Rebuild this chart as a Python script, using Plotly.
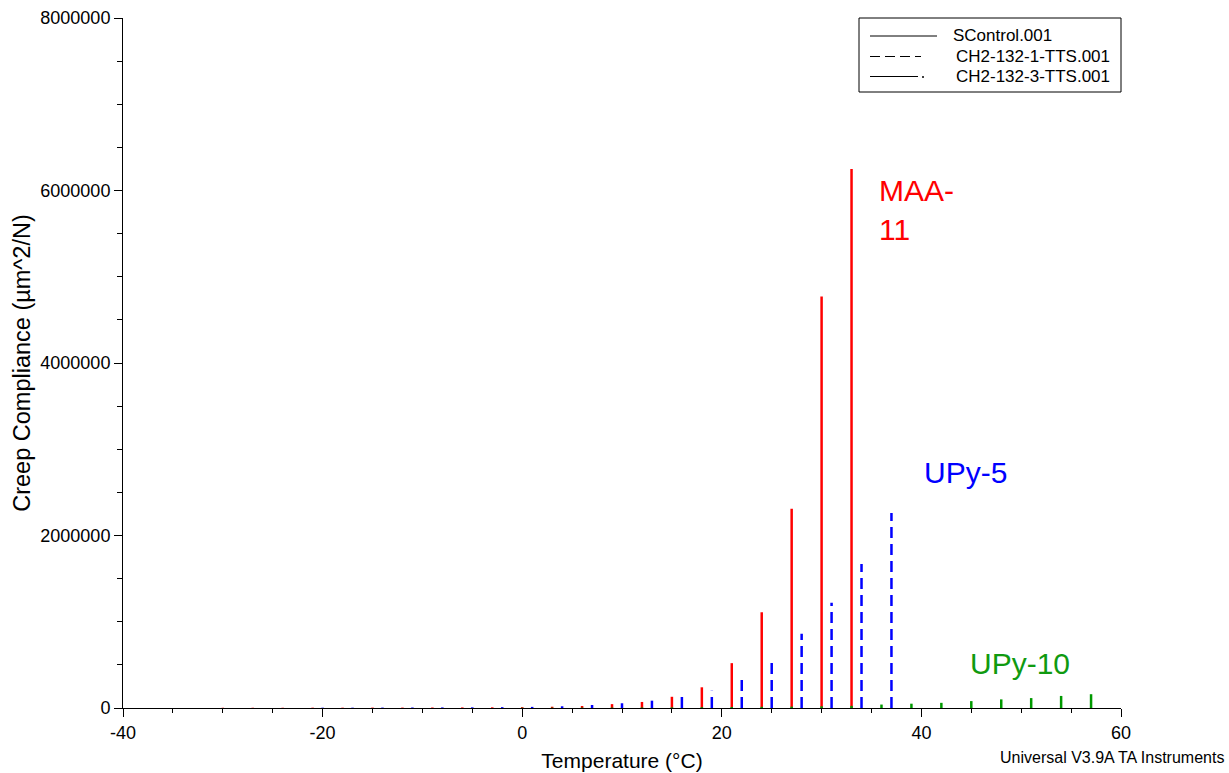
import plotly.graph_objects as go

# ---------------- data ----------------
# SControl.001 (MAA-11), red solid spikes: temperature (°C) and peak creep compliance (µm^2/N)
red_temps = [-30, -27, -24, -21, -18, -15, -12, -9, -6, -3, 0, 3, 6, 9, 12, 15, 18, 21, 24, 27, 30, 33]
red_peaks = [3000, 3000, 3000, 4000, 4000, 5000, 5000, 6000, 7000, 8000, 10000, 15000, 23000,
             45000, 70000, 130000, 240000, 520000, 1110000, 2310000, 4770000, 6250000]

# CH2-132-1-TTS.001 (UPy-5), blue dashed spikes
blue_temps = [-20, -17, -14, -11, -8, -5, -2, 1, 4, 7, 10, 13, 16, 19, 22, 25, 28, 31, 34, 37]
blue_peaks = [4000, 4000, 5000, 6000, 7000, 8000, 10000, 13000, 20000, 35000, 55000, 85000,
              130000, 200000, 330000, 540000, 860000, 1220000, 1670000, 2260000]

# CH2-132-3-TTS.001 (UPy-10), green long-dash-dot spikes
green_temps = [0, 3, 6, 9, 12, 15, 18, 21, 24, 27, 30, 33, 36, 39, 42, 45, 48, 51, 54, 57]
green_peaks = [3000, 4000, 5000, 6000, 7000, 8000, 10000, 12000, 14000, 16000, 20000, 25000,
               40000, 50000, 60000, 80000, 100000, 115000, 140000, 160000]

spike_start = 0  # compliance at the first time point of each isotherm (≈0 on this scale)

series_names = ["SControl.001", "CH2-132-1-TTS.001", "CH2-132-3-TTS.001"]
series_labels = ["MAA-", "11", "UPy-5", "UPy-10"]

x_tick_vals = [-40, -20, 0, 20, 40, 60]
x_tick_text = ["-40", "-20", "0", "20", "40", "60"]
y_tick_vals = [0, 2000000, 4000000, 6000000, 8000000]
y_tick_text = ["0", "2000000", "4000000", "6000000", "8000000"]

# ---------------- figure ----------------
FONT = "Liberation Sans, Arial, sans-serif"


def spikes(temps, peaks):
    xs, ys = [], []
    for t, p in zip(temps, peaks):
        xs += [t, t, None]
        ys += [spike_start, p, None]
    return xs, ys


fig = go.Figure()
for (temps, peaks), name, color, dash in [
    ((red_temps, red_peaks), series_names[0], "#FF0000", "solid"),
    ((blue_temps, blue_peaks), series_names[1], "#0000FF", "11px,6px"),
    ((green_temps, green_peaks), series_names[2], "#009900", "30px,5px,2px,5px"),
]:
    xs, ys = spikes(temps, peaks)
    fig.add_trace(go.Scatter(x=xs, y=ys, mode="lines", name=name, showlegend=False,
                             line=dict(color=color, width=2.5, dash=dash)))

# plot area in pixels: x 123..1121, y 18..708
L, R, T, B = 123, 1121, 18, 708


def px(xp):
    return (xp - L) / (R - L)


def py(yp):
    return (B - yp) / (B - T)


shapes = [
    dict(type="rect", xref="paper", yref="paper", x0=px(859), x1=px(1121), y0=py(92), y1=py(18),
         line=dict(color="black", width=1), fillcolor="white", layer="above"),
    dict(type="line", xref="paper", yref="paper", x0=px(870), x1=px(937), y0=py(36), y1=py(36),
         line=dict(color="black", width=1)),
    dict(type="line", xref="paper", yref="paper", x0=px(870), x1=px(921), y0=py(56.5), y1=py(56.5),
         line=dict(color="black", width=1, dash="10px,5px")),
    dict(type="line", xref="paper", yref="paper", x0=px(870), x1=px(918), y0=py(76.5), y1=py(76.5),
         line=dict(color="black", width=1)),
    dict(type="line", xref="paper", yref="paper", x0=px(922), x1=px(924), y0=py(77), y1=py(77),
         line=dict(color="black", width=1.5)),
]

annotations = [
    dict(xref="paper", yref="paper", x=px(951), y=py(36), text=series_names[0], showarrow=False,
         xanchor="left", yanchor="middle", font=dict(family=FONT, size=17, color="black")),
    dict(xref="paper", yref="paper", x=px(954), y=py(56.5), text=series_names[1], showarrow=False,
         xanchor="left", yanchor="middle", font=dict(family=FONT, size=17, color="black")),
    dict(xref="paper", yref="paper", x=px(954), y=py(76.5), text=series_names[2], showarrow=False,
         xanchor="left", yanchor="middle", font=dict(family=FONT, size=17, color="black")),
    # series labels
    dict(xref="paper", yref="paper", x=px(877), y=py(191), text=series_labels[0], showarrow=False,
         xanchor="left", yanchor="middle", font=dict(family=FONT, size=30, color="#FF0000")),
    dict(xref="paper", yref="paper", x=px(877), y=py(230), text=series_labels[1], showarrow=False,
         xanchor="left", yanchor="middle", font=dict(family=FONT, size=30, color="#FF0000")),
    dict(xref="paper", yref="paper", x=px(922), y=py(472), text=series_labels[2], showarrow=False,
         xanchor="left", yanchor="middle", font=dict(family=FONT, size=30, color="#0000FF")),
    dict(xref="paper", yref="paper", x=px(968), y=py(663), text=series_labels[3], showarrow=False,
         xanchor="left", yanchor="middle", font=dict(family=FONT, size=30, color="#109A10")),
    # footer
    dict(xref="paper", yref="paper", x=px(1226), y=py(757), text="Universal V3.9A TA Instruments",
         showarrow=False, xanchor="right", yanchor="middle",
         font=dict(family=FONT, size=16, color="black")),
]

fig.update_layout(
    width=1229, height=773,
    margin=dict(l=L, r=1229 - R, t=T, b=773 - B, autoexpand=False),
    paper_bgcolor="white", plot_bgcolor="white",
    font=dict(family=FONT, color="black"),
    showlegend=False,
    shapes=shapes, annotations=annotations,
    xaxis=dict(
        range=[-40, 60], showgrid=False, zeroline=False,
        showline=True, linecolor="black", linewidth=1,
        ticks="outside", ticklen=8, tickcolor="black", tickwidth=1,
        tickvals=x_tick_vals, ticktext=x_tick_text,
        tickfont=dict(family=FONT, size=18, color="black"),
        minor=dict(dtick=5, tick0=0, ticks="outside", ticklen=4, tickcolor="black", tickwidth=1),
        title=dict(text="Temperature (°C)", font=dict(family=FONT, size=21, color="black"), standoff=11),
        automargin=False,
    ),
    yaxis=dict(
        range=[0, 8000000], showgrid=False, zeroline=False,
        showline=True, linecolor="black", linewidth=1,
        ticks="outside", ticklen=8, tickcolor="black", tickwidth=1,
        tickvals=y_tick_vals, ticktext=y_tick_text,
        tickfont=dict(family=FONT, size=18, color="black"),
        minor=dict(dtick=500000, tick0=0, ticks="outside", ticklen=5, tickcolor="black", tickwidth=1),
        title=dict(text="Creep Compliance (µm^2/N)", font=dict(family=FONT, size=23.5, color="black"), standoff=3),
        automargin=False,
    ),
)

fig.write_html("out.html", config={"displayModeBar": False},
               post_script="document.body.style.margin='0';document.body.style.overflow='hidden';")
